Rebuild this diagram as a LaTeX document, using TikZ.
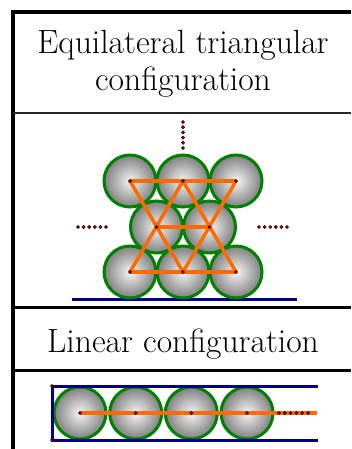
\documentclass[tikz,border=0pt]{standalone}
\usepackage{fontspec}
\definecolor{ballgreen}{HTML}{008000}
\definecolor{rodorange}{HTML}{FF6A00}
\definecolor{wallblue}{HTML}{000080}
\definecolor{dotred}{HTML}{CC0000}
\tikzset{
  ball/.style={circle, minimum size=52pt, inner sep=0pt, draw=ballgreen, line width=3pt,
    inner color=white!96!black, outer color=black!50},
  rod/.style={draw=rodorange, line width=3.5pt},
  wall/.style={draw=wallblue, line width=3pt},
  pdot/.style={circle, fill=dotred, draw=black, line width=0.5pt, inner sep=0pt, minimum size=3.2pt},
  frame/.style={draw=black},
  title/.style={font=\fontsize{33.6}{38}\selectfont\addfontfeatures{FakeBold=0.5}, anchor=base, inner sep=0pt},
}
\begin{document}
\begin{tikzpicture}[x=1pt, y=-1pt]
\useasboundingbox (0,0) rectangle (351,449);
% frame
\draw[frame, line width=4pt, line join=miter] (351,12) -- (12.5,12) -- (12.5,449);
\draw[frame, line width=2pt, draw=black!85] (12.5,113) -- (351,113);
\draw[frame, line width=3.5pt] (12.5,307.5) -- (351,307.5);
\draw[frame, line width=3pt] (12.5,370.5) -- (351,370.5);
% titles
\node[title] (tt1) at (183,54) {Equilateral triangular};
\node[title] (tt2) at (183,91) {configuration};
\node[title] (tt3) at (183,352) {Linear configuration};
% triangular configuration
\coordinate (fl) at (72,299);
\coordinate (fr) at (297,299);
\draw[wall] (fl) -- (fr);
\node[ball] (t1) at (130,181) {};
\node[ball] (t2) at (183,181) {};
\node[ball] (t3) at (236,181) {};
\node[ball] (m1) at (156.5,227) {};
\node[ball] (m2) at (209.5,227) {};
\node[ball] (b1) at (130,272) {};
\node[ball] (b2) at (183,272) {};
\node[ball] (b3) at (236,272) {};
\draw[rod] (t1.center) -- (t3.center);
\draw[rod] (b1.center) -- (b3.center);
\draw[rod] (m1.center) -- (m2.center);
\draw[rod] (t1.center) -- (b2.center);
\draw[rod] (t3.center) -- (b2.center);
\draw[rod] (b1.center) -- (t2.center);
\draw[rod] (b3.center) -- (t2.center);
\foreach \n in {t1,t2,t3,m1,m2,b1,b2,b3} \node[pdot] at (\n.center) {};
\foreach \i in {0,...,5} {
  \node[pdot] (vd\i) at (183,122+\i*5.2) {};
  \node[pdot] (ld\i) at (78+\i*5.6,227) {};
  \node[pdot] (rd\i) at (259+\i*5.6,227) {};
}
% linear configuration
\node[ball] (l1) at (80,413) {};
\node[ball] (l2) at (135.7,413) {};
\node[ball] (l3) at (191.3,413) {};
\node[ball] (l4) at (247,413) {};
\coordinate (ctl) at (52,386);
\coordinate (cbl) at (52,440);
\coordinate (ctr) at (318,386);
\coordinate (cbr) at (318,440);
\draw[wall] (ctr) -- (ctl) -- (cbl) -- (cbr);
\coordinate (rodend) at (317,413);
\draw[rod] (l1.center) -- (rodend);
\foreach \n in {l1,l2,l3,l4} \node[pdot] at (\n.center) {};
\node[pdot] (cd1) at (ctl) {};
\node[pdot] (cd2) at (cbl) {};
\foreach \i in {0,...,5} \node[pdot] (hd\i) at (279+\i*5.8,413) {};
\end{tikzpicture}
\end{document}
